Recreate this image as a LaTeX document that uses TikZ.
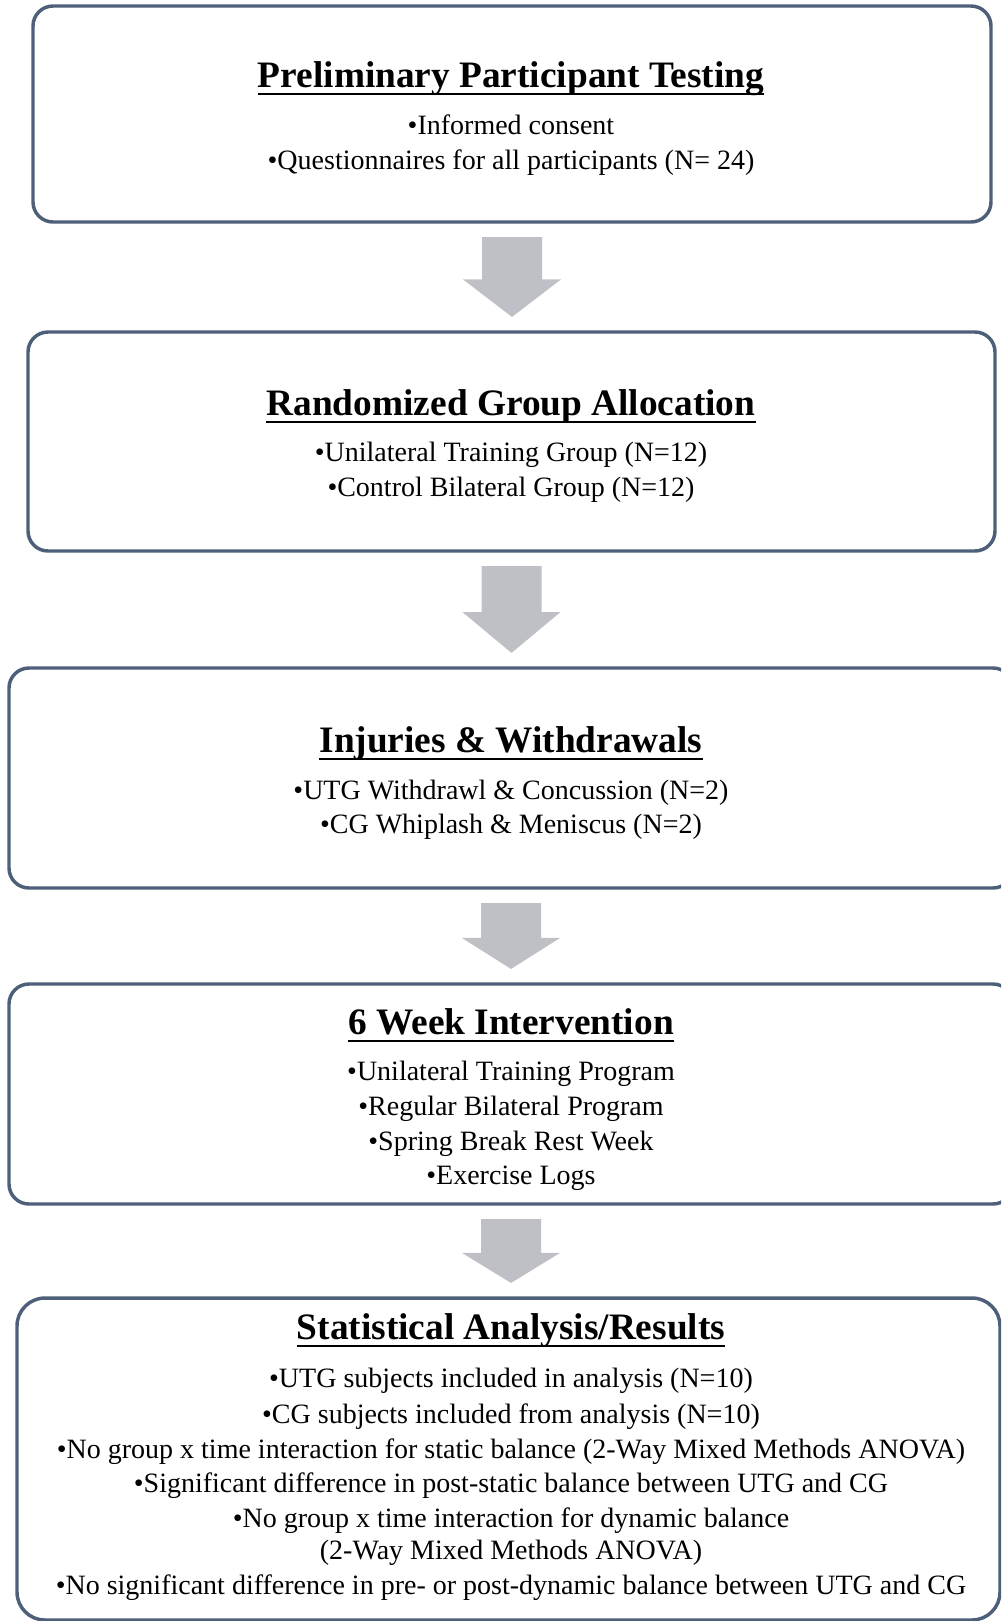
\documentclass[tikz,border=0pt]{standalone}
\usepackage{fontspec}
\setmainfont{Liberation Serif}
\usetikzlibrary{calc}
\definecolor{boxline}{HTML}{4E6079}
\definecolor{arrowfill}{HTML}{BFC0C5}
\tikzset{
  box/.style={draw=boxline, line width=2.6pt, fill=white, inner sep=0pt},
  ttl/.style={inner sep=0pt, anchor=base, font=\fontsize{28}{33}\bfseries\selectfont},
  bdy/.style={inner sep=0pt, anchor=base, font=\fontsize{21}{26}\selectfont},
  uline/.style={line width=1.9pt, black},
}
\newcommand\blockarrow[2]{%
  \fill[arrowfill] let \p1=([yshift=-10pt]#1.south), \p2=([yshift=10pt]#2.north),
    \p3=($(\p2)!0.47!(\p1)$) in
    (\x1-22.5pt,\y1) -- (\x1+22.5pt,\y1) -- (\x1+22.5pt,\y3) -- (\x1+36.75pt,\y3)
    -- (\x1,\y2) -- (\x1-36.75pt,\y3) -- (\x1-22.5pt,\y3) -- cycle;}
\newcommand\titleline[1]{\draw[uline] ([yshift=-5.25pt]#1.base west) -- ([yshift=-5.25pt]#1.base east);}
\begin{document}
\begin{tikzpicture}[x=0.75pt,y=-0.75pt]
\useasboundingbox (0,0) rectangle (1001,1621);
\clip (0,0) rectangle (1001,1621);
% boxes
\node[box, rounded corners=15pt, minimum width=718.5pt, minimum height=162pt] (b1) at (512,114) {};
\node[box, rounded corners=15pt, minimum width=725.25pt, minimum height=164.25pt] (b2) at (511.5,441.5) {};
\node[box, rounded corners=15pt, minimum width=753pt, minimum height=165pt] (b3) at (511,778) {};
\node[box, rounded corners=15pt, minimum width=753pt, minimum height=165pt] (b4) at (511,1094) {};
\node[box, rounded corners=21pt, minimum width=737.25pt, minimum height=241.5pt] (b5) at (508.5,1459) {};
% arrows
\blockarrow{b1}{b2}
\blockarrow{b2}{b3}
\blockarrow{b3}{b4}
\blockarrow{b4}{b5}
% box 1
\node[ttl] (t1) at (511,87) {Preliminary Participant Testing};
\titleline{t1}
\node[bdy] (t1a) at (511,134) {•Informed consent};
\node[bdy] (t1b) at (511,169) {•Questionnaires for all participants (N= 24)};
% box 2
\node[ttl] (t2) at (511,415) {Randomized Group Allocation};
\titleline{t2}
\node[bdy] (t2a) at (511,461) {•Unilateral Training Group (N=12)};
\node[bdy] (t2b) at (511,496) {•Control Bilateral Group (N=12)};
% box 3
\node[ttl] (t3) at (511,752) {Injuries \& Withdrawals};
\titleline{t3}
\node[bdy] (t3a) at (511,799) {•UTG Withdrawl \& Concussion (N=2)};
\node[bdy] (t3b) at (511,833) {•CG Whiplash \& Meniscus (N=2)};
% box 4
\node[ttl] (t4) at (511,1034) {6 Week Intervention};
\titleline{t4}
\node[bdy] (t4a) at (511,1080) {•Unilateral Training Program};
\node[bdy] (t4b) at (511,1115) {•Regular Bilateral Program};
\node[bdy] (t4c) at (511,1150) {•Spring Break Rest Week};
\node[bdy] (t4d) at (511,1184) {•Exercise Logs};
% box 5
\node[ttl] (t5) at (511,1339) {Statistical Analysis/Results};
\titleline{t5}
\node[bdy] (t5a) at (511,1387) {•UTG subjects included in analysis (N=10)};
\node[bdy] (t5b) at (511,1423) {•CG subjects included from analysis (N=10)};
\node[bdy] (t5c) at (511,1458) {•No group x time interaction for static balance (2-Way Mixed Methods ANOVA)};
\node[bdy] (t5d) at (511,1492) {•Significant difference in post-static balance between UTG and CG};
\node[bdy] (t5e) at (511,1527) {•No group x time interaction for dynamic balance};
\node[bdy] (t5f) at (511,1559) {(2-Way Mixed Methods ANOVA)};
\node[bdy] (t5g) at (511,1594) {•No significant difference in pre- or post-dynamic balance between UTG and CG};
\end{tikzpicture}
\end{document}
